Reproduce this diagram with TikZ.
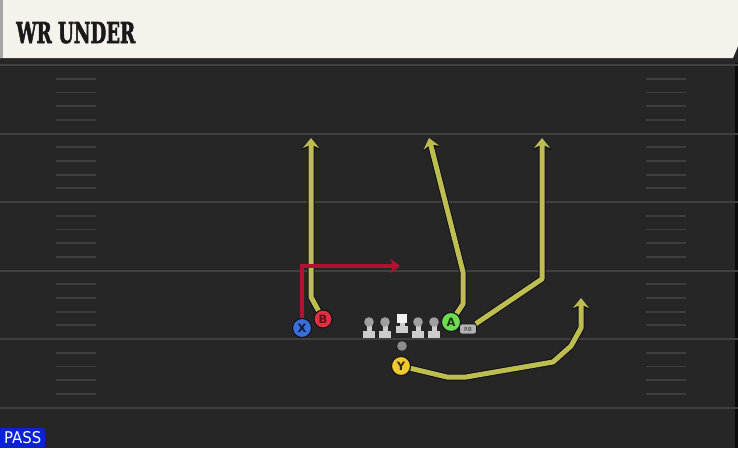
\documentclass[tikz,border=0pt]{standalone}
\usepackage{fontspec}
\usepackage{graphicx}
\setmainfont{DejaVu Serif}
\newfontfamily\titlefont{DejaVu Serif}[BoldFeatures={FakeBold=2.5}]
\newfontfamily\labelfont{DejaVu Sans}
\usetikzlibrary{arrows.meta}
\pgfdeclarelayer{field}
\pgfdeclarelayer{routes}
\pgfsetlayers{field,routes,main}
\definecolor{fieldbg}{RGB}{38,38,38}
\definecolor{yardline}{RGB}{64,64,64}
\definecolor{hashc}{RGB}{62,62,62}
\definecolor{cream}{RGB}{245,242,235}
\definecolor{routey}{RGB}{190,190,80}
\definecolor{routeout}{RGB}{16,16,24}
\definecolor{routered}{RGB}{178,18,48}
\definecolor{xblue}{RGB}{58,110,216}
\definecolor{bred}{RGB}{226,48,64}
\definecolor{agreen}{RGB}{110,220,80}
\definecolor{yyellow}{RGB}{240,200,48}
\definecolor{passblue}{RGB}{12,34,214}
\definecolor{lmgray}{RGB}{205,205,205}
\definecolor{lmhead}{RGB}{160,160,160}
\tikzset{
  player/.style={circle, draw=routeout, line width=1pt, minimum size=19pt, inner sep=0pt,
    font=\labelfont\bfseries\fontsize{11.5}{11.5}\selectfont},
  route/.style={draw=routey, line width=5pt, line join=round,
    -{Stealth[length=10pt,width=16pt,inset=3.5pt]},
    preaction={draw=routeout, line width=7pt, line join=round,
      -{Stealth[length=12pt,width=19pt,inset=4pt]}}},
  redroute/.style={draw=routered, line width=4.5pt, line join=miter,
    -{Stealth[length=10pt,width=15pt,inset=3.5pt]}},
  yard/.style={draw=yardline, line width=2pt},
  hashm/.style={draw=hashc, line width=1.8pt},
  lm/.style={fill=lmgray}
}
\begin{document}
\begin{tikzpicture}[x=1pt,y=-1pt]
\useasboundingbox (0,0) rectangle (738,448);
\begin{pgfonlayer}{field}
\fill[fieldbg] (0,0) rectangle (738,448);
\fill[black!70!fieldbg] (735,58) rectangle (738,448);
\foreach \yy in {65,133.5,202,270.5,339,408} {
  \draw[yard] (0,\yy) -- (738,\yy);
}
\foreach \yy in {65,133.5,202,270.5,339} {
  \foreach \k in {1,2,3,4} {
    \draw[hashm] (56,\yy+13.7*\k) -- (96,\yy+13.7*\k);
    \draw[hashm] (646,\yy+13.7*\k) -- (686,\yy+13.7*\k);
  }
}
\fill[black!85] (0,56) rectangle (738,63);
\fill[cream] (0,0) -- (738,0) -- (738,46) -- (733,58) -- (0,58) -- cycle;
\fill[black!35] (0,0) rectangle (3,58);
\end{pgfonlayer}
\node[anchor=base west, inner sep=0pt, text=black!90] (title) at (16,43)
  {\resizebox{119pt}{21pt}{\titlefont\bfseries WR UNDER}};
\node[anchor=south west, fill=passblue, minimum width=45pt, minimum height=20pt,
  inner sep=0pt, text=white] (pass) at (0,448)
  {\resizebox{37pt}{12pt}{\labelfont PASS}};
% linemen
\foreach \xx in {369,385,418,434} {
  \fill[lm] (\xx-6,331) rectangle (\xx+6,338);
  \fill[lm] (\xx-2.5,323) rectangle (\xx+2.5,332);
  \fill[lmhead] (\xx,322) circle (4.8);
}
\fill[lm] (396,326) rectangle (408,333);
\fill[lm] (399.5,321) rectangle (404.5,327);
\fill[white!95!black] (397,313.5) rectangle (407,323);
\fill[black!45] (402,346) circle (4.8);
% players
\node[player, fill=xblue, text=xblue!25!black] (X) at (302,328) {X};
\node[player, fill=bred, minimum size=18pt, text=bred!40!black] (B) at (323,319) {B};
\node[player, fill=agreen, text=agreen!25!black] (A) at (451,322) {A};
\node[player, fill=yyellow, text=yyellow!20!black] (Y) at (401,366) {Y};
\node[rounded corners=2.5pt, fill=black!30!white, draw=routeout, line width=0.6pt,
  minimum width=17pt, minimum height=10pt, inner sep=0pt, text=black!80,
  font=\labelfont\fontsize{5.5}{5.5}\selectfont] (RB) at (468,329) {RB};
% route waypoints
\coordinate (xr) at (302,266);
\coordinate (xe) at (400,266);
\coordinate (b1) at (311,297);
\coordinate (be) at (311,138);
\coordinate (a1) at (463,304);
\coordinate (a2) at (463,272);
\coordinate (ae) at (429,138);
\coordinate (r1) at (542,279);
\coordinate (re) at (542,138);
\coordinate (y1) at (447,377);
\coordinate (y2) at (466,377);
\coordinate (y3) at (553,362);
\coordinate (y4) at (571,346);
\coordinate (y5) at (581,328);
\coordinate (ye) at (581,298);
\begin{pgfonlayer}{routes}
\draw[route] (B) -- (b1) -- (be);
\draw[route] (A) -- (a1) -- (a2) -- (ae);
\draw[route] (RB) -- (r1) -- (re);
\draw[route] (Y) -- (y1) -- (y2) -- (y3) -- (y4) -- (y5) -- (ye);
\draw[redroute] (X.north) -- (xr) -- (xe);
\end{pgfonlayer}
\end{tikzpicture}
\end{document}
